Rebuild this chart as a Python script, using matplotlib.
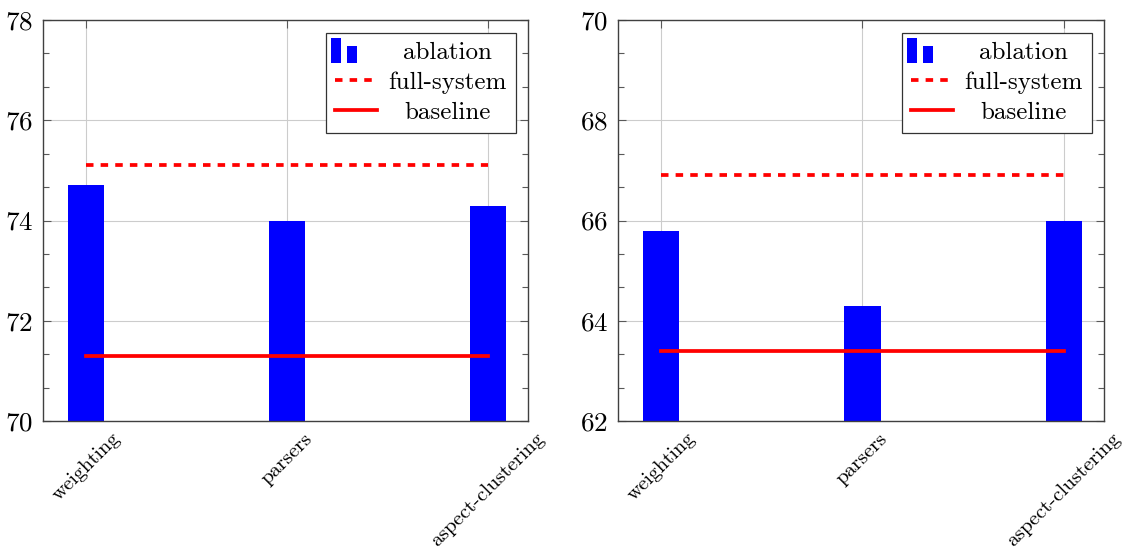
import matplotlib
matplotlib.use('Agg')
import matplotlib.pyplot as plt
from matplotlib.patches import Rectangle
from matplotlib.legend_handler import HandlerBase
from matplotlib.ticker import MultipleLocator, AutoMinorLocator

plt.rcParams['font.family'] = ['cmr10', 'DejaVu Serif']
plt.rcParams['axes.formatter.use_mathtext'] = True
plt.rcParams['mathtext.fontset'] = 'cm'

# data
categories = ['weighting', 'parsers', 'aspect-clustering']
ablation_left = [74.7, 74.0, 74.3]
full_left = 75.1
baseline_left = 71.3
ablation_right = [65.8, 64.3, 66.0]
full_right = 66.9
baseline_right = 63.4
ylims = [(70, 78), (62, 70)]


class BarHandler(HandlerBase):
    # pgfplots style ybar legend image: two little bars
    def create_artists(self, legend, orig, xd, yd, w, h, fs, trans):
        bw = w * 0.24
        r1 = Rectangle((xd - w * 0.08, yd - h * 0.25), bw, h * 1.45,
                       facecolor='blue', edgecolor='none', transform=trans)
        r2 = Rectangle((xd + w * 0.28, yd - h * 0.25), bw, h * 1.0,
                       facecolor='blue', edgecolor='none', transform=trans)
        return [r1, r2]


fig = plt.figure(figsize=(11.23, 5.5), dpi=100)
axes = [fig.add_axes([0.0383, 0.2345, 0.4319, 0.729]),
        fig.add_axes([0.5503, 0.2345, 0.4328, 0.729])]

panels = [(ablation_left, full_left, baseline_left),
          (ablation_right, full_right, baseline_right)]

x = list(range(len(categories)))
for ax, (abl, full, base), yl in zip(axes, panels, ylims):
    bars = ax.bar(x, abl, width=0.18, color='blue', zorder=2)
    fl, = ax.plot([x[0], x[-1]], [full, full], color='red', lw=2.7,
                  dashes=(2.0, 1.9), zorder=3)
    bl, = ax.plot([x[0], x[-1]], [base, base], color='red', lw=2.7, zorder=3)

    ax.set_xlim(-0.214, 2.2)
    ax.set_ylim(*yl)
    ax.yaxis.set_major_locator(MultipleLocator(2))
    ax.yaxis.set_minor_locator(AutoMinorLocator(3))
    ax.set_xticks(x)
    ax.set_xticklabels(categories, rotation=45, ha='center', va='top',
                       fontsize=15)
    ax.tick_params(axis='y', labelsize=19.5)
    ax.tick_params(which='both', direction='in', top=True, right=True,
                   color='0.35', width=0.8)
    ax.tick_params(which='major', length=6, pad=7)
    ax.tick_params(which='minor', length=4)
    ax.tick_params(axis='x', pad=6)
    ax.grid(True, which='major', color='0.8', lw=0.8, zorder=0)
    ax.set_axisbelow(True)
    for s in ax.spines.values():
        s.set_color('0.25')
        s.set_linewidth(1.0)

    leg = ax.legend([bars, fl, bl], ['ablation', 'full-system', 'baseline'],
                    handler_map={type(bars): BarHandler()},
                    loc='upper right', fontsize=18, fancybox=False,
                    edgecolor='0.2', framealpha=1, borderaxespad=0.5,
                    handlelength=1.7, labelspacing=0.3, handletextpad=0.45,
                    borderpad=0.35)
    leg.get_frame().set_linewidth(0.9)

# centre legend texts in their column like pgfplots does
renderer = fig.canvas.get_renderer()
for ax in axes:
    texts = ax.get_legend().get_texts()
    widths = [t.get_window_extent(renderer).width for t in texts]
    wmax = max(widths)
    for t, w in zip(texts, widths):
        t.set_x((wmax - w) / 2)

fig.savefig('out.png', dpi=100)
